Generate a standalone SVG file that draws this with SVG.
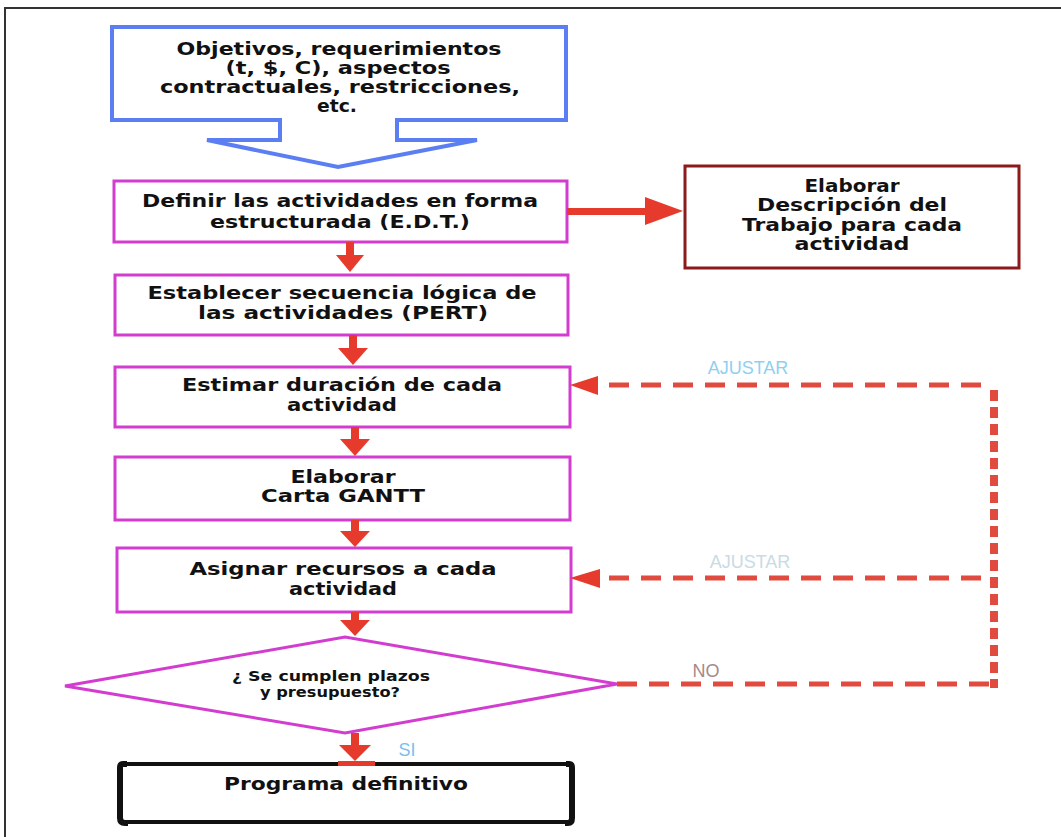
<svg xmlns="http://www.w3.org/2000/svg" width="1061" height="837" viewBox="0 0 1061 837">
<style>
.t{font-family:"DejaVu Sans","Liberation Sans",Arial,sans-serif;font-weight:bold;font-size:18px;fill:#111;text-anchor:middle}
.b{font-size:17px}
.s{font-size:14px}
.pk{fill:#fff;stroke:#d23ccf;stroke-width:3}
.lbl{font-family:"Liberation Sans",Arial,sans-serif;font-size:18px;text-anchor:middle}
.ar{fill:#e63a2c}
.dash{fill:none;stroke:#e04a3f;stroke-width:5;stroke-dasharray:20 12}
</style>
<rect width="1061" height="837" fill="#fff"/>
<path d="M4,8 H1061 M5,8 V837" stroke="#333" stroke-width="2" fill="none"/>

<g id="n-objetivos">
<path d="M112,27 H566 V120 H397 V140 H477 L338,167 L207,140 H280 V120 H112 Z" fill="#fff" stroke="#5b7ff2" stroke-width="4"/>
<text class="t b" x="339" y="55" textLength="325" lengthAdjust="spacingAndGlyphs">Objetivos, requerimientos</text>
<text class="t b" x="338" y="74" textLength="225" lengthAdjust="spacingAndGlyphs">(t, $, C), aspectos</text>
<text class="t b" x="340" y="93" textLength="360" lengthAdjust="spacingAndGlyphs">contractuales, restricciones,</text>
<text class="t b" x="337" y="112" textLength="40" lengthAdjust="spacingAndGlyphs">etc.</text>
</g>

<g id="n-definir">
<rect class="pk" x="114" y="181" width="453" height="61"/>
<text class="t" x="340" y="207" textLength="396" lengthAdjust="spacingAndGlyphs">Definir las actividades en forma</text>
<text class="t" x="340" y="228" textLength="260" lengthAdjust="spacingAndGlyphs">estructurada (E.D.T.)</text>
</g>

<g id="n-descripcion">
<rect x="685" y="166" width="334" height="102" fill="#fff" stroke="#8b1a1a" stroke-width="3"/>
<text class="t" x="852" y="192" textLength="95" lengthAdjust="spacingAndGlyphs">Elaborar</text>
<text class="t" x="852" y="211" textLength="190" lengthAdjust="spacingAndGlyphs">Descripción del</text>
<text class="t" x="852" y="231" textLength="220" lengthAdjust="spacingAndGlyphs">Trabajo para cada</text>
<text class="t" x="852" y="250" textLength="115" lengthAdjust="spacingAndGlyphs">actividad</text>
</g>

<g id="n-secuencia">
<rect class="pk" x="115" y="275" width="453" height="60"/>
<text class="t" x="342" y="299" textLength="389" lengthAdjust="spacingAndGlyphs">Establecer secuencia lógica de</text>
<text class="t" x="343" y="319" textLength="290" lengthAdjust="spacingAndGlyphs">las actividades  (PERT)</text>
</g>

<g id="n-duracion">
<rect class="pk" x="115" y="367" width="455" height="60"/>
<text class="t" x="342" y="391" textLength="320" lengthAdjust="spacingAndGlyphs">Estimar duración de cada</text>
<text class="t" x="342" y="411" textLength="110" lengthAdjust="spacingAndGlyphs">actividad</text>
</g>

<g id="n-gantt">
<rect class="pk" x="115" y="457" width="455" height="63"/>
<text class="t" x="343" y="483" textLength="105" lengthAdjust="spacingAndGlyphs">Elaborar</text>
<text class="t" x="343" y="502" textLength="164" lengthAdjust="spacingAndGlyphs">Carta GANTT</text>
</g>

<g id="n-recursos">
<rect class="pk" x="117" y="548" width="454" height="64"/>
<text class="t" x="343" y="575" textLength="307" lengthAdjust="spacingAndGlyphs">Asignar recursos a cada</text>
<text class="t" x="343" y="595" textLength="108" lengthAdjust="spacingAndGlyphs">actividad</text>
</g>

<g id="n-decision">
<polygon points="65,686 345,637 617,684 345,733" fill="#fff" stroke="#d23ccf" stroke-width="3"/>
<text class="t s" x="331" y="681" textLength="198" lengthAdjust="spacingAndGlyphs">¿ Se cumplen plazos</text>
<text class="t s" x="330" y="697" textLength="140" lengthAdjust="spacingAndGlyphs">y presupuesto?</text>
</g>

<g id="n-programa">
<path d="M125,764 H568 M125,822 H568" stroke="#111" stroke-width="4" fill="none"/>
<path d="M127,764 H123 Q120,764 120,768 V818 Q120,823 125,823 H128" stroke="#111" stroke-width="6" fill="none"/>
<path d="M566,764 H569 Q572,764 572,768 V818 Q572,823 568,823 H565" stroke="#111" stroke-width="6" fill="none"/>
<text class="t" x="346" y="790" textLength="244" lengthAdjust="spacingAndGlyphs">Programa definitivo</text>
</g>

<g id="connectors">
<rect class="ar" x="346" y="242" width="8" height="14"/><polygon class="ar" points="336,255 364,255 350,272"/>
<rect class="ar" x="349" y="335" width="8" height="14"/><polygon class="ar" points="338,348 368,348 353,365"/>
<rect class="ar" x="351" y="427" width="8" height="13"/><polygon class="ar" points="340,439 370,439 355,456"/>
<rect class="ar" x="351" y="520" width="8" height="12"/><polygon class="ar" points="340,531 370,531 355,547"/>
<rect class="ar" x="351" y="612" width="8" height="9"/><polygon class="ar" points="340,620 370,620 355,636"/>
<rect class="ar" x="351" y="733" width="8" height="13"/><polygon class="ar" points="339,745 371,745 355,761"/>
<rect class="ar" x="338" y="761" width="37" height="5"/>
<rect class="ar" x="567" y="208" width="80" height="7"/><polygon class="ar" points="645,197 683,211 645,225"/>
<path class="dash" d="M609,385 H993"/>
<path class="dash" d="M609,578 H993"/>
<path class="dash" d="M617,684 H993"/>
<path d="M994,390 V688" fill="none" stroke="#e04a3f" stroke-width="8" stroke-dasharray="11 6"/>
<polygon class="ar" points="570,385 598,376 598,395"/>
<polygon class="ar" points="570,578 600,569 600,588"/>
<text class="lbl" x="748" y="374" fill="#8fd0f0">AJUSTAR</text>
<text class="lbl" x="750" y="568" fill="#c9dbe4">AJUSTAR</text>
<text class="lbl" x="706" y="677" fill="#a88888">NO</text>
<text class="lbl" x="407" y="756" fill="#79bff0">SI</text>
</g>
</svg>
